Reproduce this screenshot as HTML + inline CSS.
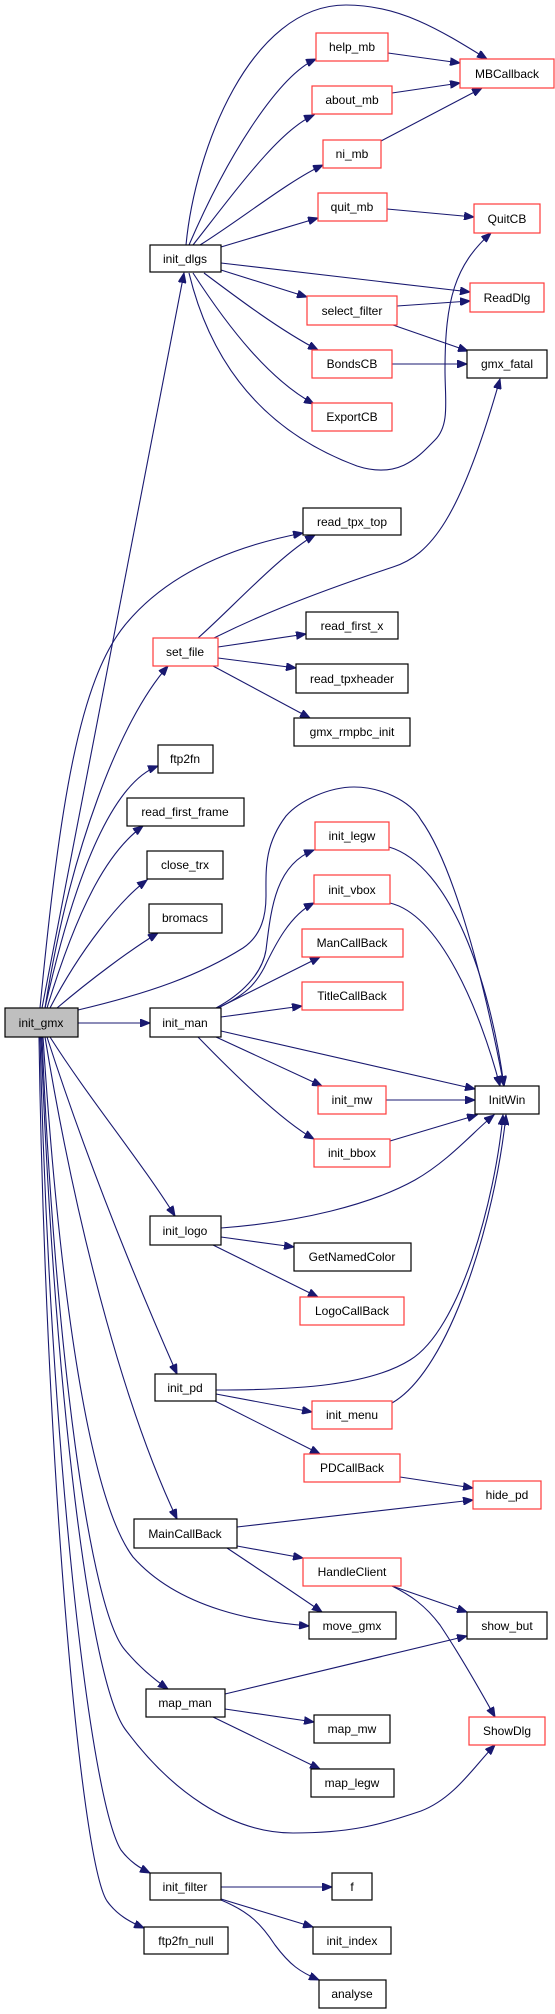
<!DOCTYPE html>
<html><head><meta charset="utf-8"><style>
html,body{margin:0;padding:0;background:#fff;}
svg{display:block;}
text{font-family:"Liberation Sans",sans-serif;font-size:12px;fill:#000;text-anchor:middle;}
.e{fill:none;stroke:#191970;stroke-width:1.1;marker-end:url(#a);}
.b{fill:#fff;stroke:#000;stroke-width:1.2;}
.r{fill:#fff;stroke:#ff3b3b;stroke-width:1.2;}
</style></head><body>
<svg width="555" height="2014" viewBox="0 0 555 2014" xmlns="http://www.w3.org/2000/svg">
<defs><marker id="a" markerUnits="userSpaceOnUse" markerWidth="11" markerHeight="8" refX="10" refY="4" orient="auto"><path d="M0,0 L10,4 L0,8 Z" fill="#191970" stroke="#191970"/></marker></defs>
<!-- edges -->
<path class="e" d="M186,245 C195,150 250,5 346,5 C400,5 440,30 487,59"/>
<path class="e" d="M189,245 C230,150 280,75 316,59"/>
<path class="e" d="M193,245 C240,185 280,130 314,115"/>
<path class="e" d="M200,245 C240,220 290,180 323,165"/>
<path class="e" d="M221,247 L318,218"/>
<path class="e" d="M221,263 L470,292"/>
<path class="e" d="M221,270 L307,297"/>
<path class="e" d="M204,273 C240,300 280,330 318,350"/>
<path class="e" d="M193,273 C230,330 270,380 314,404"/>
<path class="e" d="M189,273 C210,360 260,430 357,466 C400,480 420,455 435,440 C450,425 445,400 445,370 C445,300 455,265 491,233"/>
<path class="e" d="M388,53 L460,63"/>
<path class="e" d="M392,93 L460,83"/>
<path class="e" d="M381,141 L482,88"/>
<path class="e" d="M387,209 L474,217"/>
<path class="e" d="M397,306 L470,301"/>
<path class="e" d="M393,325 L468,351"/>
<path class="e" d="M392,364 L467,364"/>
<path class="e" d="M42,1008 L184,273"/>
<path class="e" d="M45,1008 C70,850 120,720 168,666"/>
<path class="e" d="M40,1008 C60,800 80,680 125,625 C170,570 240,545 303,533"/>
<path class="e" d="M198,638 C230,610 280,555 315,535"/>
<path class="e" d="M214,638 C250,620 300,598 393,567 C430,555 460,520 500,379"/>
<path class="e" d="M218,647 L306,634"/>
<path class="e" d="M218,658 L296,668"/>
<path class="e" d="M213,666 L310,718"/>
<path class="e" d="M45,1008 C80,850 120,780 158,766"/>
<path class="e" d="M47,1008 C80,900 110,850 143,826"/>
<path class="e" d="M50,1008 C80,950 120,900 147,880"/>
<path class="e" d="M57,1008 C90,980 130,950 158,933"/>
<path class="e" d="M78,1010 C150,993 200,975 243,948 C262,935 266,915 266,896 C266,870 264,845 286,816 C300,800 330,787 354,787 C380,787 410,800 421,820 C450,860 480,960 504,1086"/>
<path class="e" d="M78,1023 L150,1023"/>
<path class="e" d="M216,1008 C240,995 262,975 266,950 C271,910 275,865 314,850"/>
<path class="e" d="M218,1008 C245,995 255,985 264,968 C275,945 290,915 314,903"/>
<path class="e" d="M218,1008 L320,957"/>
<path class="e" d="M221,1017 L302,1006"/>
<path class="e" d="M221,1031 L475,1089"/>
<path class="e" d="M216,1037 L322,1086"/>
<path class="e" d="M198,1037 C230,1070 280,1120 314,1139"/>
<path class="e" d="M389,847 C450,865 490,980 504,1086"/>
<path class="e" d="M390,903 C440,915 480,1010 500,1086"/>
<path class="e" d="M386,1100 L475,1100"/>
<path class="e" d="M390,1141 L477,1115"/>
<path class="e" d="M221,1228 C300,1222 370,1205 415,1180 C450,1160 475,1130 494,1115"/>
<path class="e" d="M221,1237 L294,1247"/>
<path class="e" d="M213,1245 L318,1297"/>
<path class="e" d="M216,1390 C300,1390 370,1385 410,1360 C460,1330 495,1200 503,1115"/>
<path class="e" d="M392,1403 C450,1370 495,1220 506,1115"/>
<path class="e" d="M216,1394 L312,1412"/>
<path class="e" d="M213,1400 L320,1454"/>
<path class="e" d="M400,1477 L473,1488"/>
<path class="e" d="M237,1527 L473,1500"/>
<path class="e" d="M237,1546 L303,1558"/>
<path class="e" d="M227,1548 C260,1570 290,1590 322,1612"/>
<path class="e" d="M392,1586 L467,1612"/>
<path class="e" d="M392,1586 C410,1595 425,1605 440,1625 C460,1655 480,1690 495,1717"/>
<path class="e" d="M225,1694 L467,1636"/>
<path class="e" d="M225,1709 L314,1722"/>
<path class="e" d="M213,1717 L320,1769"/>
<path class="e" d="M221,1887 L332,1887"/>
<path class="e" d="M221,1899 L313,1927"/>
<path class="e" d="M221,1900 C250,1912 262,1925 275,1945 C290,1965 300,1972 319,1980"/>
<path class="e" d="M50,1037 C90,1100 140,1160 175,1216"/>
<path class="e" d="M47,1037 C90,1170 140,1290 177,1374"/>
<path class="e" d="M45,1037 C80,1250 130,1420 177,1519"/>
<path class="e" d="M43,1037 C60,1300 90,1500 133,1557 C180,1610 260,1622 309,1626"/>
<path class="e" d="M42,1037 C55,1350 90,1610 125,1650 C140,1668 155,1680 168,1689"/>
<path class="e" d="M41,1037 C55,1400 90,1680 125,1729 C170,1790 230,1833 293,1833 C350,1833 380,1825 421,1811 C455,1798 475,1765 495,1745"/>
<path class="e" d="M40,1037 C50,1450 90,1800 121,1850 C130,1862 140,1868 150,1873"/>
<path class="e" d="M39,1037 C45,1450 80,1860 107,1901 C117,1915 130,1922 144,1928"/>
<!-- nodes -->
<g>
<rect class="r" x="316" y="33" width="72" height="28"/><text x="352" y="51">help_mb</text>
<rect class="r" x="460" y="59" width="94" height="29"/><text x="507" y="78">MBCallback</text>
<rect class="r" x="312" y="86" width="80" height="28"/><text x="352" y="104">about_mb</text>
<rect class="r" x="323" y="140" width="58" height="28"/><text x="352" y="158">ni_mb</text>
<rect class="r" x="318" y="193" width="69" height="28"/><text x="352" y="211">quit_mb</text>
<rect class="r" x="474" y="204" width="66" height="29"/><text x="507" y="223">QuitCB</text>
<rect class="b" x="150" y="245" width="71" height="27"/><text x="185" y="263">init_dlgs</text>
<rect class="r" x="470" y="283" width="74" height="29"/><text x="507" y="302">ReadDlg</text>
<rect class="r" x="307" y="296" width="90" height="29"/><text x="352" y="315">select_filter</text>
<rect class="b" x="467" y="350" width="80" height="28"/><text x="507" y="368">gmx_fatal</text>
<rect class="r" x="312" y="350" width="80" height="28"/><text x="352" y="368">BondsCB</text>
<rect class="r" x="312" y="403" width="80" height="28"/><text x="352" y="421">ExportCB</text>
<rect class="b" x="303" y="508" width="98" height="27"/><text x="352" y="526">read_tpx_top</text>
<rect class="b" x="306" y="612" width="92" height="27"/><text x="352" y="630">read_first_x</text>
<rect class="r" x="153" y="638" width="65" height="28"/><text x="185" y="656">set_file</text>
<rect class="b" x="296" y="664" width="112" height="29"/><text x="352" y="683">read_tpxheader</text>
<rect class="b" x="294" y="718" width="116" height="28"/><text x="352" y="736">gmx_rmpbc_init</text>
<rect class="b" x="158" y="745" width="55" height="28"/><text x="185" y="763">ftp2fn</text>
<rect class="b" x="127" y="798" width="117" height="28"/><text x="185" y="816">read_first_frame</text>
<rect class="b" x="147" y="851" width="76" height="28"/><text x="185" y="869">close_trx</text>
<rect class="b" x="149" y="904" width="73" height="29"/><text x="185" y="922">bromacs</text>
<rect class="r" x="315" y="822" width="74" height="28"/><text x="352" y="840">init_legw</text>
<rect class="r" x="314" y="875" width="76" height="29"/><text x="352" y="894">init_vbox</text>
<rect class="r" x="302" y="929" width="101" height="28"/><text x="352" y="947">ManCallBack</text>
<rect class="r" x="302" y="982" width="101" height="28"/><text x="352" y="1000">TitleCallBack</text>
<rect x="5" y="1008" width="73" height="29" fill="#bfbfbf" stroke="#000" stroke-width="1.2"/><text x="41" y="1027">init_gmx</text>
<rect class="b" x="150" y="1008" width="71" height="29"/><text x="185" y="1027">init_man</text>
<rect class="r" x="318" y="1086" width="68" height="28"/><text x="352" y="1104">init_mw</text>
<rect class="b" x="475" y="1086" width="64" height="28"/><text x="507" y="1104">InitWin</text>
<rect class="r" x="314" y="1139" width="76" height="28"/><text x="352" y="1157">init_bbox</text>
<rect class="b" x="150" y="1216" width="71" height="29"/><text x="185" y="1235">init_logo</text>
<rect class="b" x="294" y="1243" width="117" height="28"/><text x="352" y="1261">GetNamedColor</text>
<rect class="r" x="300" y="1297" width="104" height="28"/><text x="352" y="1315">LogoCallBack</text>
<rect class="b" x="155" y="1374" width="61" height="27"/><text x="185" y="1392">init_pd</text>
<rect class="r" x="312" y="1401" width="80" height="28"/><text x="352" y="1419">init_menu</text>
<rect class="r" x="304" y="1454" width="96" height="28"/><text x="352" y="1472">PDCallBack</text>
<rect class="r" x="473" y="1481" width="68" height="28"/><text x="507" y="1499">hide_pd</text>
<rect class="b" x="134" y="1519" width="103" height="29"/><text x="185" y="1538">MainCallBack</text>
<rect class="r" x="303" y="1558" width="98" height="28"/><text x="352" y="1576">HandleClient</text>
<rect class="b" x="309" y="1612" width="87" height="27"/><text x="352" y="1630">move_gmx</text>
<rect class="b" x="467" y="1612" width="80" height="27"/><text x="507" y="1630">show_but</text>
<rect class="b" x="146" y="1689" width="79" height="28"/><text x="185" y="1707">map_man</text>
<rect class="b" x="314" y="1715" width="76" height="28"/><text x="352" y="1733">map_mw</text>
<rect class="r" x="469" y="1717" width="76" height="28"/><text x="507" y="1735">ShowDlg</text>
<rect class="b" x="311" y="1769" width="83" height="28"/><text x="352" y="1787">map_legw</text>
<rect class="b" x="150" y="1873" width="71" height="27"/><text x="185" y="1891">init_filter</text>
<rect class="b" x="332" y="1873" width="40" height="27"/><text x="352" y="1891">f</text>
<rect class="b" x="144" y="1927" width="84" height="27"/><text x="186" y="1945">ftp2fn_null</text>
<rect class="b" x="313" y="1927" width="78" height="27"/><text x="352" y="1945">init_index</text>
<rect class="b" x="319" y="1980" width="67" height="28"/><text x="352" y="1998">analyse</text>
</g>
</svg>
</body></html>
